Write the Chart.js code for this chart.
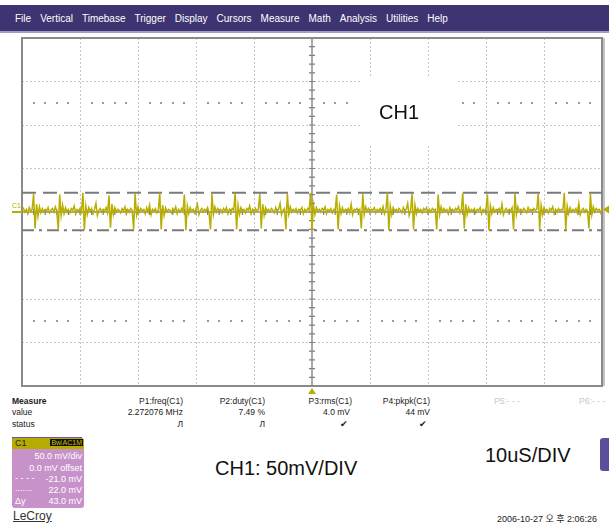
<!DOCTYPE html>
<html>
<head>
<meta charset="utf-8">
<script src="https://cdn.jsdelivr.net/npm/chart.js@4/dist/chart.umd.min.js"></script>
<style>
  body { margin: 0; width: 609px; height: 526px; background: #fff; position: relative; overflow: hidden;
         font-family: Arial, "Liberation Sans", sans-serif; }
  .abs { position: absolute; white-space: nowrap; }
  #menu { position: absolute; left: 0; top: 5px; width: 609px; height: 28px; background: #3e3471;
          border-bottom: 2px solid #a39cc6; display: flex; align-items: center; padding-left: 15px;
          box-sizing: border-box; gap: 9px; color: #fff; font-size: 10px; }
  #scope { position: absolute; left: 0; top: 34px; }
  .meas { font-size: 8.5px; color: #222; }
  .r { text-align: right; }
  .big { font-size: 20px; color: #111; }
  #c1box { position: absolute; left: 12px; top: 438px; width: 72px; height: 70px; background: #c792c9;
           border-radius: 3px; overflow: hidden; }
  #c1head { height: 11px; background: #b6ac00; position: relative; font-size: 9px; color: #222; }
  .c1row { position: absolute; right: 2px; font-size: 9px; color: #fff; }
  .c1left { position: absolute; left: 3px; font-size: 9px; color: #fff; }
</style>
</head>
<body>
<div id="menu">
  <span>File</span><span>Vertical</span><span>Timebase</span><span>Trigger</span><span>Display</span>
  <span>Cursors</span><span>Measure</span><span>Math</span><span>Analysis</span><span>Utilities</span><span>Help</span>
</div>

<canvas id="scope" width="609" height="360"></canvas>

<div class="abs big" style="left:379px;top:101px;">CH1</div>

<!-- measurement table -->
<div class="abs meas" style="left:12px;top:396px;font-weight:bold;">Measure</div>
<div class="abs meas" style="left:12px;top:407px;">value</div>
<div class="abs meas" style="left:12px;top:419px;">status</div>
<div class="abs" style="left:12px;top:437px;width:70px;height:2px;background:#6b5d9c;"></div>

<div class="abs meas r" style="left:103px;width:80px;top:396px;">P1:freq(C1)</div>
<div class="abs meas r" style="left:103px;width:80px;top:407px;">2.272076 MHz</div>
<div class="abs meas r" style="left:103px;width:80px;top:419px;">Л</div>

<div class="abs meas r" style="left:185px;width:80px;top:396px;">P2:duty(C1)</div>
<div class="abs meas r" style="left:185px;width:80px;top:407px;">7.49 %</div>
<div class="abs meas r" style="left:185px;width:80px;top:419px;">Л</div>

<div class="abs meas r" style="left:272px;width:80px;top:396px;">P3:rms(C1)</div>
<div class="abs meas r" style="left:270px;width:80px;top:407px;">4.0 mV</div>
<div class="abs meas r" style="left:268px;width:80px;top:419px;">✔</div>

<div class="abs meas r" style="left:350px;width:80px;top:396px;">P4:pkpk(C1)</div>
<div class="abs meas r" style="left:350px;width:80px;top:407px;">44 mV</div>
<div class="abs meas r" style="left:347px;width:80px;top:419px;">✔</div>

<div class="abs meas" style="left:494px;top:396px;color:#c8c8c8;">P5:- - -</div>
<div class="abs meas" style="left:579px;top:396px;color:#c8c8c8;">P6:- - -</div>

<!-- channel descriptor -->
<div id="c1box">
  <div id="c1head">
    <span style="position:absolute;left:3px;top:0px;">C1</span>
    <span style="position:absolute;right:18px;top:1px;background:#111;color:#c9bf00;font-size:7px;padding:0 1px;">BwL</span>
    <span style="position:absolute;right:1px;top:1px;background:#111;color:#c9bf00;font-size:7px;padding:0 1px;">AC1M</span>
  </div>
  <div class="c1row" style="top:13px;">50.0 mV/div</div>
  <div class="c1row" style="top:25px;">0.0 mV offset</div>
  <div class="c1left" style="top:35px;">- - - -</div>
  <div class="c1row" style="top:36px;">-21.0 mV</div>
  <div class="c1left" style="top:45px;">.......</div>
  <div class="c1row" style="top:47px;">22.0 mV</div>
  <div class="c1left" style="top:58px;">Δy</div>
  <div class="c1row" style="top:58px;">43.0 mV</div>
</div>
<div class="abs" style="left:13px;top:509px;font-size:12px;color:#333;text-decoration:underline;">LeCroy</div>

<div class="abs big" style="left:215px;top:457px;">CH1: 50mV/DIV</div>
<div class="abs big" style="left:485px;top:444px;">10uS/DIV</div>
<div class="abs" style="left:600px;top:438px;width:14px;height:33px;background:#5d4e9c;border-radius:3px;"></div>

<div class="abs" style="left:497px;top:512px;font-size:9px;color:#222;font-family:Arial,'Noto Sans CJK KR',sans-serif;">2006-10-27 오 후 2:06:26</div>

<script>
// time base: 10 us/div, 10 divisions, one sample every 0.25 us
const sampleStepUs = 0.25;
// CH1 trace in mV (50 mV/div)
const ch1mV = [
  2, 4, 0, 3, -2, 5, 1, 3, 21, -19, 9, -5, 6, -1, 4, 0, 3, 1, 5, -1,
  2, 4, 0, 6, 1, -20, 20, -4, 8, -2, 5, 0, 3, -1, 4, 2, 7, -2, 3, 1,
  4, 0, 22, -21, 7, -3, 5, 1, 4, -2, 3, 10, -4, 2, 4, 0, 3, 1, 5, -1,
  19, -18, 9, -3, 5, 0, 3, 2, -1, 4, 1, 6, -2, 3, 0, 4, 2, -20, 21, -3,
  6, 0, 4, 1, 3, -2, 5, 0, 8, -3, 3, 1, 4, -1, 2, 22, -20, 8, -4, 5,
  0, 3, 2, -1, 4, 1, 6, -2, 3, 0, 4, 1, 20, -21, 7, -2, 5, 1, 3, -1,
  4, 9, -3, 2, 4, 0, 3, 1, 5, -1, -20, 21, -3, 6, 0, 4, 2, 3, -1, 4,
  1, 5, -2, 3, 0, 4, 2, 22, -20, 8, -3, 5, 1, 3, -1, 4, 2, 7, -2, 3,
  0, 4, 1, 3, 21, -19, 9, -4, 5, 1, 3, 0, 4, 2, -1, 5, 1, 3, 10, -3,
  2, 4, -20, 21, -2, 6, 0, 3, 1, 4, -1, 3, 2, 5, -2, 3, 0, 4, 2, 22,
  -21, 8, -3, 5, 1, 3, 0, 4, 2, 6, -2, 3, 1, 4, -1, 3, 2, 20, -20, 7,
  -2, 5, 0, 3, 1, 4, -1, 9, -3, 3, 2, 4, 0, 3, -19, 21, -3, 6, 1, 4,
  0, 3, 2, 5, -1, 3, 1, 4, 0, 6, -2, 3, 22, -21, 7, -3, 5, 1, 3, 0,
  4, 2, -1, 5, 1, 3, 10, -4, 2, 21, -20, 8, -2, 4, 1, 3, -1, 4, 2, 5,
  -1, 3, 0, 4, 2, 3, -20, 20, -3, 6, 0, 4, 1, 3, -2, 5, 1, 3, 0, 4,
  2, 6, -1, 3, 22, -19, 9, -3, 5, 0, 3, 1, 4, -1, 3, 2, 5, -2, 3, 1,
  4, 20, -21, 7, -2, 5, 0, 3, 1, 4, -1, 9, -3, 2, 4, 0, 3, 1, 5, -20,
  21, -3, 6, 1, 3, 0, 4, 2, -1, 5, 1, 3, 0, 4, 2, 3, 21, -20, 8, -3,
  5, 1, 3, -1, 4, 2, 6, -2, 3, 0, 4, 1, 3, 2, 22, -21, 7, -2, 5, 0,
  3, 1, 4, -1, 10, -3, 2, 4, 0, 3, 1, -19, 21, -3, 6, 0, 4, 2, 3, -1,
  4
];
// cursor levels in mV
const cursorUpper = 22.0;
const cursorLower = -21.0;
// screen ranges
const timeRangeUs = [0, 100];
const voltRangeMv = [-200, 200];

const YELLOW = '#b8ae00';

const points = ch1mV.map((v, i) => ({ x: i * sampleStepUs, y: v }));

const scopeDecor = {
  id: 'scopeDecor',
  beforeDatasetsDraw(chart) {
    const { ctx, chartArea: a, scales: { x, y } } = chart;
    ctx.save();
    // blank patch behind the CH1 label
    ctx.fillStyle = '#fff';
    ctx.fillRect(360, 78 - 34, 97, 66);

    // rows of dots at +/- 2.5 div
    ctx.fillStyle = '#9a9a9a';
    [125, -125].forEach(mv => {
      const py = Math.round(y.getPixelForValue(mv));
      for (let t = 2; t < 100; t += 2) {
        if (t % 10 === 0) continue;
        const px = Math.round(x.getPixelForValue(t));
        if (px > 357 && px < 460 && mv > 0) continue;
        ctx.fillRect(px - 1, py - 1, 2, 2);
      }
    });

    // centre cross with minor ticks
    const cx = x.getPixelForValue(50), cy = y.getPixelForValue(0);
    ctx.strokeStyle = '#a8a8a8';
    ctx.lineWidth = 2;
    ctx.beginPath();
    ctx.moveTo(cx, a.top); ctx.lineTo(cx, a.bottom);
    ctx.moveTo(a.left, cy); ctx.lineTo(a.right, cy);
    ctx.stroke();
    ctx.strokeStyle = '#808080';
    ctx.lineWidth = 1.2;
    ctx.beginPath();
    for (let mv = -190; mv < 200; mv += 10) {
      const py = y.getPixelForValue(mv);
      ctx.moveTo(cx - 3, py); ctx.lineTo(cx + 3, py);
    }
    for (let t = 2; t < 100; t += 2) {
      const px = x.getPixelForValue(t);
      ctx.moveTo(px, cy - 3); ctx.lineTo(px, cy + 3);
    }
    ctx.stroke();

    // frame
    ctx.strokeStyle = '#8a8a8a';
    ctx.lineWidth = 2;
    ctx.strokeRect(a.left, a.top, a.right - a.left, a.bottom - a.top);
    ctx.strokeStyle = '#c4c4c4';
    ctx.beginPath();
    ctx.moveTo(a.right + 2, a.top); ctx.lineTo(a.right + 2, a.bottom);
    ctx.stroke();
    ctx.restore();
  },
  afterDraw(chart) {
    const { ctx, chartArea: a, scales: { x, y } } = chart;
    ctx.save();
    ctx.fillStyle = YELLOW;
    ctx.strokeStyle = YELLOW;
    // channel ground marker
    const gy = y.getPixelForValue(0);
    ctx.font = '7px Arial';
    ctx.fillText('C1', 12, gy - 4);
    ctx.lineWidth = 2;
    ctx.beginPath(); ctx.moveTo(12, gy); ctx.lineTo(a.left, gy); ctx.stroke();
    // trigger level marker on the right
    const ty = y.getPixelForValue(3);
    ctx.beginPath();
    ctx.moveTo(a.right + 1, ty); ctx.lineTo(a.right + 7, ty - 4); ctx.lineTo(a.right + 7, ty + 4);
    ctx.closePath(); ctx.fill();
    // trigger time marker below the grid
    const tx = x.getPixelForValue(50);
    ctx.beginPath();
    ctx.moveTo(tx, a.bottom + 2); ctx.lineTo(tx - 4, a.bottom + 8); ctx.lineTo(tx + 4, a.bottom + 8);
    ctx.closePath(); ctx.fill();
    ctx.restore();
  }
};

new Chart(document.getElementById('scope'), {
  type: 'line',
  data: {
    datasets: [
      {
        data: points,
        borderColor: YELLOW,
        borderWidth: 1.5,
        pointRadius: 0,
        tension: 0,
        order: 1
      },
      {
        data: [{ x: timeRangeUs[0], y: cursorUpper }, { x: timeRangeUs[1], y: cursorUpper }],
        borderColor: '#7a7a7a',
        borderWidth: 2,
        borderDash: [14, 7],
        pointRadius: 0,
        order: 2
      },
      {
        data: [{ x: timeRangeUs[0], y: cursorLower }, { x: timeRangeUs[1], y: cursorLower }],
        borderColor: '#7a7a7a',
        borderWidth: 2,
        borderDash: [12, 5, 3, 5],
        pointRadius: 0,
        order: 2
      }
    ]
  },
  options: {
    responsive: false,
    animation: false,
    layout: { padding: { left: 22, top: 4, right: 7, bottom: 8 } },
    plugins: { legend: { display: false }, tooltip: { enabled: false } },
    scales: {
      x: {
        type: 'linear',
        min: timeRangeUs[0],
        max: timeRangeUs[1],
        ticks: { display: false, stepSize: 10 },
        grid: { color: '#c6c6c6', drawTicks: false },
        border: { display: false, dash: [2, 2] }
      },
      y: {
        min: voltRangeMv[0],
        max: voltRangeMv[1],
        ticks: { display: false, stepSize: 50 },
        grid: { color: '#c6c6c6', drawTicks: false },
        border: { display: false, dash: [2, 2] }
      }
    }
  },
  plugins: [scopeDecor]
});
</script>
</body>
</html>
